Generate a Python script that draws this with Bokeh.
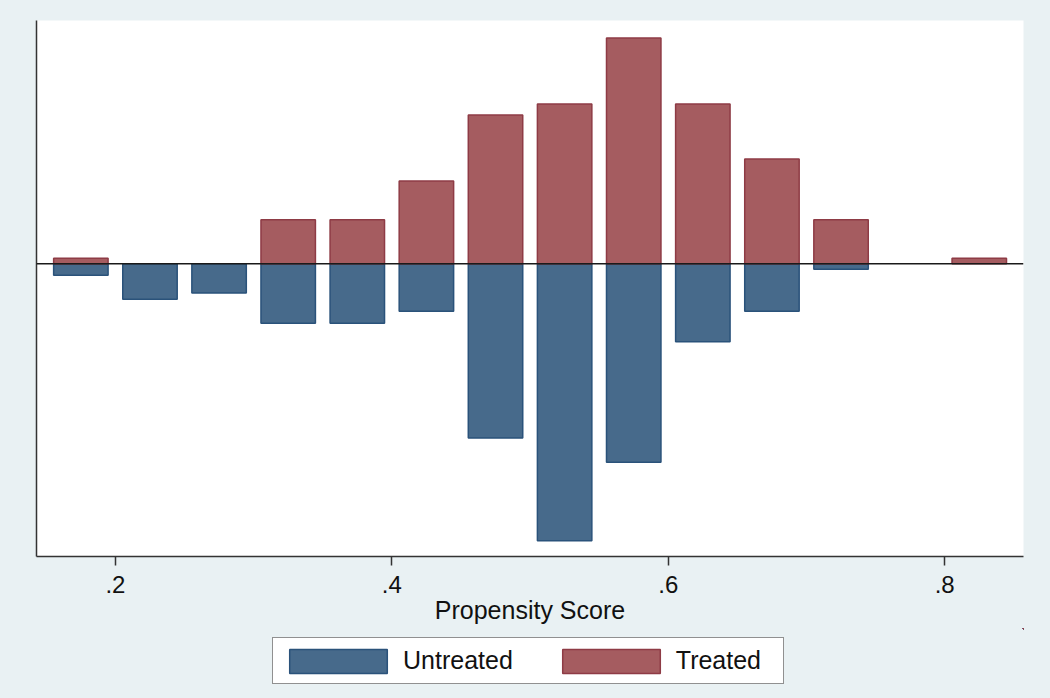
from bokeh.plotting import figure
from bokeh.layouts import column
from bokeh.models import Range1d, Span, Legend, LegendItem, FixedTicker, ColumnDataSource
from bokeh.embed import file_html
from bokeh.resources import INLINE

# Bin centres of the propensity-score histogram (bin width 0.05)
bin_centers = [0.175, 0.225, 0.275, 0.325, 0.375, 0.425, 0.475,
               0.525, 0.575, 0.625, 0.675, 0.725, 0.775, 0.825]
# Densities
treated = [0.108, 0.0, 0.0, 0.860, 0.860, 1.613, 2.903,
           3.118, 4.409, 3.118, 2.043, 0.860, 0.0, 0.108]
untreated = [0.227, 0.695, 0.572, 1.164, 1.164, 0.930, 3.404,
             5.410, 3.879, 1.523, 0.930, 0.109, 0.0, 0.0]
tick_values = [0.2, 0.4, 0.6, 0.8]
tick_labels = [".2", ".4", ".6", ".8"]
series_names = ["Untreated", "Treated"]

BG = "#E9F1F3"
FONT = "Liberation Sans"
C_U, L_U = "#476A8B", "#2A527A"
C_T, L_T = "#A55C60", "#8E3B45"

src_t = ColumnDataSource(dict(x=[x for x, v in zip(bin_centers, treated) if v > 0],
                              top=[v for v in treated if v > 0]))
src_u = ColumnDataSource(dict(x=[x for x, v in zip(bin_centers, untreated) if v > 0],
                              bottom=[-v for v in untreated if v > 0]))

W = 1050
p = figure(width=W, height=628, output_backend="svg", toolbar_location=None,
           x_range=Range1d(0.1429, 0.857), y_range=Range1d(-5.72, 4.75),
           min_border_left=36, min_border_right=27, min_border_top=20, min_border_bottom=72)
p.border_fill_color = BG
p.background_fill_color = "white"
p.outline_line_color = None
p.grid.grid_line_color = None

bw = 0.0394
p.vbar(x="x", top=0, bottom="bottom", width=bw, source=src_u,
       fill_color=C_U, line_color=L_U, line_width=1.5)
p.vbar(x="x", bottom=0, top="top", width=bw, source=src_t,
       fill_color=C_T, line_color=L_T, line_width=1.5)

p.add_layout(Span(location=0, dimension="width", line_color="#1a1a1a", line_width=1.5))

# x axis
xa = p.xaxis[0]
xa.ticker = FixedTicker(ticks=tick_values)
xa.major_label_overrides = {v: l for v, l in zip(tick_values, tick_labels)}
xa.minor_tick_line_color = None
xa.major_tick_in = 0
xa.major_tick_out = 9
xa.major_tick_line_color = "#333333"
xa.major_tick_line_width = 1.5
xa.axis_line_color = "#333333"
xa.axis_line_width = 1.5
xa.major_label_text_font = FONT
xa.major_label_text_font_size = "24px"
xa.major_label_text_color = "#111111"
xa.major_label_standoff = 10
xa.axis_label = "Propensity Score"
xa.axis_label_text_font = FONT
xa.axis_label_text_font_size = "25px"
xa.axis_label_text_font_style = "normal"
xa.axis_label_text_color = "#111111"
xa.axis_label_standoff = 0

# y axis: line only
ya = p.yaxis[0]
ya.ticker = FixedTicker(ticks=[])
ya.minor_tick_line_color = None
ya.major_tick_line_color = None
ya.major_label_text_font_size = "0px"
ya.axis_line_color = "#333333"
ya.axis_line_width = 1.5

# legend strip (its bars lie far outside its visible ranges; only the legend shows)
lg = figure(width=W, height=70, output_backend="svg", toolbar_location=None,
            x_range=Range1d(-51, -50), y_range=Range1d(-101, -100),
            x_axis_location=None, y_axis_location=None,
            min_border=0, min_border_left=0, min_border_right=0,
            min_border_top=0, min_border_bottom=0)
lg.grid.grid_line_color = None
lg.outline_line_color = None
lg.border_fill_color = BG
lg.background_fill_color = BG
ru = lg.vbar(x="x", top=0, bottom="bottom", width=bw, source=src_u,
             fill_color=C_U, line_color=L_U, line_width=1.5)
rt = lg.vbar(x="x", bottom=0, top="top", width=bw, source=src_t,
             fill_color=C_T, line_color=L_T, line_width=1.5)

legend = Legend(items=[LegendItem(label=series_names[0], renderers=[ru]),
                       LegendItem(label=series_names[1], renderers=[rt])],
                orientation="horizontal", location=(236, 14))
legend.label_text_font = FONT
legend.label_text_font_size = "25px"
legend.label_text_color = "#111111"
legend.glyph_width = 122
legend.glyph_height = 30
legend.label_height = 37
legend.label_width = 103
legend.label_standoff = 4
legend.spacing = 37
legend.padding = 4
legend.margin = 0
legend.border_line_color = "#222222"
legend.border_line_width = 1.5
legend.background_fill_color = "white"
legend.background_fill_alpha = 1.0
lg.add_layout(legend, "center")

layout = column(p, lg, spacing=0, styles={"background-color": BG})
open("out.html", "w").write(file_html(layout, INLINE))
